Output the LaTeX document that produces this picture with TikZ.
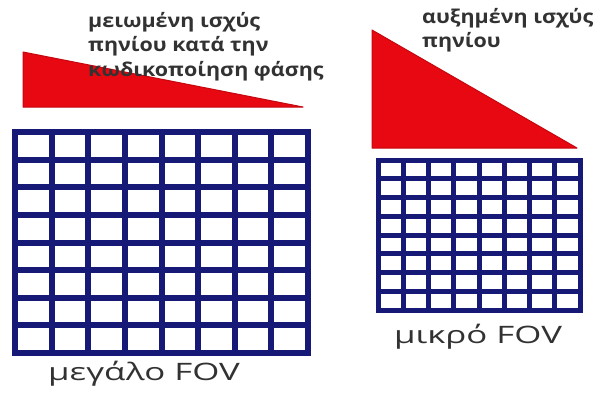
\documentclass[tikz,border=0pt]{standalone}
\usepackage{fontspec}
\setmainfont{Open Sans}
\newfontfamily\powerfont[FakeStretch=1.13]{Open Sans}
\newfontfamily\fovfont[FakeStretch=1.45]{Open Sans}
\definecolor{gridblue}{RGB}{22,26,118}
\definecolor{coilred}{RGB}{232,8,18}
\definecolor{labelgray}{RGB}{50,50,50}
\begin{document}
\begin{tikzpicture}[x=1pt, y=-1pt,
  every node/.style={inner sep=0pt, text=labelgray},
  coil/.style={fill=coilred, draw=coilred!85!black, line width=1pt, line join=round},
  gridline/.style={draw=gridblue, line width=#1, line cap=rect},
  powertext/.style={font=\powerfont\bfseries\fontsize{19}{24.5}\selectfont, align=left, anchor=north west},
  fovtext/.style={font=\fovfont\fontsize{24}{28}\selectfont, anchor=center}]
  \useasboundingbox[fill=white] (0,0) rectangle (601,392);

  % large FOV: wide grid, low slope
  \def\lx{15} \def\ly{132} \def\lw{293} \def\lh{221}
  \foreach \i in {0,...,8} {
    \draw[gridline=6] ({\lx+\i*\lw/8},\ly) -- ({\lx+\i*\lw/8},{\ly+\lh});
    \draw[gridline=6] (\lx,{\ly+\i*\lh/8}) -- ({\lx+\lw},{\ly+\i*\lh/8});
  }
  \fill[coil] (23,52) -- (23,107) -- (303,107) -- cycle;

  % small FOV: dense grid, steep slope
  \def\rx{378} \def\ry{160} \def\rw{202} \def\rh{150}
  \foreach \i in {0,...,8} {
    \draw[gridline=5] ({\rx+\i*\rw/8},\ry) -- ({\rx+\i*\rw/8},{\ry+\rh});
    \draw[gridline=5] (\rx,{\ry+\i*\rh/8}) -- ({\rx+\rw},{\ry+\i*\rh/8});
  }
  \fill[coil] (372,30) -- (372,148) -- (577,148) -- cycle;

  \node[powertext] (lowpower) at (88,12) {μειωμένη ισχύς\\πηνίου κατά την\\κωδικοποίηση φάσης};
  \node[powertext] (highpower) at (422,8) {αυξημένη ισχύς\\πηνίου};

  \node[fovtext] (largefov) at (144,374) {μεγάλο FOV};
  \node[fovtext] (smallfov) at (478,337) {μικρό FOV};
\end{tikzpicture}
\end{document}
